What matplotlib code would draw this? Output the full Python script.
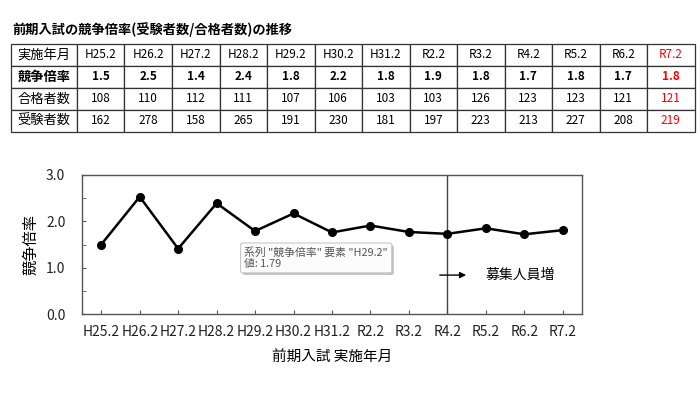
import matplotlib
matplotlib.use("Agg")
import matplotlib.pyplot as plt
import matplotlib.patheffects as pe
from matplotlib.ticker import MultipleLocator

plt.rcParams["font.family"] = ["Noto Sans CJK JP", "DejaVu Sans"]

# =========================
# DATA
# =========================

years = ["H25.2", "H26.2", "H27.2", "H28.2", "H29.2", "H30.2", "H31.2",
         "R2.2", "R3.2", "R4.2", "R5.2", "R6.2", "R7.2"]
ratio_table = ["1.5", "2.5", "1.4", "2.4", "1.8", "2.2", "1.8",
               "1.9", "1.8", "1.7", "1.8", "1.7", "1.8"]
passers = [108, 110, 112, 111, 107, 106, 103, 103, 126, 123, 123, 121, 121]
examinees = [162, 278, 158, 265, 191, 230, 181, 197, 223, 213, 227, 208, 219]
# plotted values
ratio_plot = [1.50, 2.53, 1.41, 2.39, 1.79, 2.17, 1.76, 1.91, 1.77, 1.73, 1.85, 1.72, 1.81]

row_labels = ["実施年月", "競争倍率", "合格者数", "受験者数"]

W, H = 700, 394
fig = plt.figure(figsize=(7.0, 3.94), dpi=100)
fig.patch.set_facecolor("white")


def px_axes(x0, y0, x1, y1):
    return fig.add_axes([x0 / W, 1 - y1 / H, (x1 - x0) / W, (y1 - y0) / H])


# =========================
# TITLE + TABLE
# =========================

fig.text(12 / W, 1 - 30 / H, "前期入試の競争倍率(受験者数/合格者数)の推移",
         fontsize=9.5, fontweight="bold", va="center", ha="left")

tax = px_axes(11, 44, 694.5, 132)
tax.axis("off")

cell_text = [
    [row_labels[0]] + years,
    [row_labels[1]] + ratio_table,
    [row_labels[2]] + [str(v) for v in passers],
    [row_labels[3]] + [str(v) for v in examinees],
]
col_w = [66] + [47.5] * len(years)
total = sum(col_w)
tbl = tax.table(cellText=cell_text, colWidths=[c / total for c in col_w],
                cellLoc="center", bbox=[0, 0, 1, 1])
tbl.auto_set_font_size(False)
for (r, c), cell in tbl.get_celld().items():
    cell.set_edgecolor("#333333")
    cell.set_linewidth(0.9)
    txt = cell.get_text()
    txt.set_fontsize(9.5 if c == 0 else 8.5)
    if r == 1:
        txt.set_fontweight("bold")
    if c == len(years):
        txt.set_color("red")

# =========================
# LINE CHART
# =========================

ax = px_axes(82, 175, 582, 314)
x = list(range(len(years)))
ax.plot(x, ratio_plot, color="black", linewidth=1.8, marker="o",
        markersize=5.5, zorder=3)

ax.set_xlim(-0.5, len(years) - 0.5)
ax.set_ylim(0, 3.0)
ax.set_xticks(x)
ax.set_xticklabels(years, fontsize=10, color="#222222")
ax.yaxis.set_major_locator(MultipleLocator(1.0))
ax.yaxis.set_minor_locator(MultipleLocator(0.5))
ax.set_yticklabels([f"{v:.1f}" for v in ax.get_yticks()], fontsize=10,
                   color="#222222")
ax.tick_params(axis="both", which="both", direction="in", length=3,
               color="#555555")
ax.tick_params(axis="y", pad=12)
ax.tick_params(axis="x", pad=8)
for s in ax.spines.values():
    s.set_color("#555555")
    s.set_linewidth(1.0)

ax.set_ylabel("競争倍率", fontsize=11, labelpad=5)
ax.set_xlabel("前期入試 実施年月", fontsize=10.5, labelpad=8)

# boundary where recruitment increased
ax.axvline(9, color="#444444", linewidth=1.0, zorder=2)
ax.annotate("", xy=(9.56, 0.84), xytext=(8.73, 0.84),
            arrowprops=dict(arrowstyle="-|>", color="black", lw=1.0,
                            mutation_scale=9))
ax.text(9.98, 0.84, "募集人員増", fontsize=10, va="center", ha="left")

# tooltip left over in the screenshot
tip = ax.text(3.72, 1.21, '系列 "競争倍率" 要素 "H29.2"\n値: 1.79',
              fontsize=7.8, color="#555555", va="center", ha="left",
              linespacing=1.2, zorder=5,
              bbox=dict(boxstyle="round,pad=0.35,rounding_size=0.2",
                        facecolor="#fcfcfc", edgecolor="#c8c8c8", lw=0.8))
tip.get_bbox_patch().set_path_effects(
    [pe.SimplePatchShadow(offset=(1.5, -1.5), shadow_rgbFace="#999999",
                          alpha=0.6), pe.Normal()])

fig.savefig("out.png", dpi=100, facecolor="white")
